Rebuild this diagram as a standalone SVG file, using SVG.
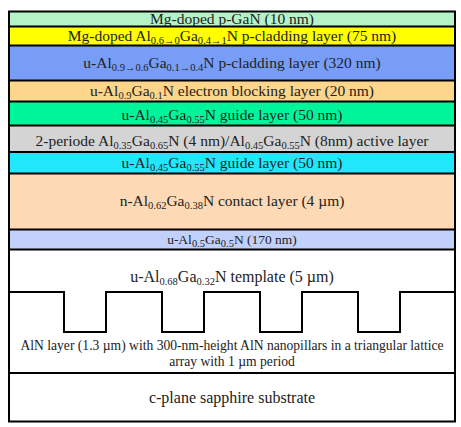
<svg xmlns="http://www.w3.org/2000/svg" width="461" height="427" viewBox="0 0 461 427">
<style>
.t{font-family:"Liberation Serif","Times New Roman",serif;font-size:15.5px;text-anchor:middle;fill:#222}
.m{font-size:13.5px}
.sm{font-size:13.6px}
.b{font-size:16px}
.s{font-size:10.5px}
.l{stroke:#000;stroke-width:2;fill:none}
</style>
<rect width="461" height="427" fill="#fff"/>
<g id="pgan"><rect x="9" y="11.5" width="446" height="15" fill="#b5f2c6"/>
<text class="t" x="232" y="24">Mg-doped p-GaN (10 nm)</text></g>
<g id="pclad75"><rect x="9" y="26.5" width="446" height="19" fill="#ffff00"/>
<text class="t" x="232" y="41">Mg-doped Al<tspan class="s" dy="3">0.6→0</tspan><tspan dy="-3">Ga</tspan><tspan class="s" dy="3">0.4→1</tspan><tspan dy="-3">N p-cladding layer (75 nm)</tspan></text></g>
<g id="pclad320"><rect x="9" y="45.5" width="446" height="35" fill="#779df6"/>
<text class="t" x="232" y="68">u-Al<tspan class="s" dy="3">0.9→0.6</tspan><tspan dy="-3">Ga</tspan><tspan class="s" dy="3">0.1→0.4</tspan><tspan dy="-3">N p-cladding layer (320 nm)</tspan></text></g>
<g id="ebl"><rect x="9" y="80.5" width="446" height="21" fill="#fdd58b"/>
<text class="t" x="232" y="95.5">u-Al<tspan class="s" dy="3">0.9</tspan><tspan dy="-3">Ga</tspan><tspan class="s" dy="3">0.1</tspan><tspan dy="-3">N electron blocking layer (20 nm)</tspan></text></g>
<g id="guide1"><rect x="9" y="101.5" width="446" height="24" fill="#00f59b"/>
<text class="t" x="232" y="120">u-Al<tspan class="s" dy="3">0.45</tspan><tspan dy="-3">Ga</tspan><tspan class="s" dy="3">0.55</tspan><tspan dy="-3">N guide layer (50 nm)</tspan></text></g>
<g id="active"><rect x="9" y="125.5" width="446" height="26.5" fill="#d4d4d4"/>
<text class="t" x="232" y="145.5">2-periode Al<tspan class="s" dy="3">0.35</tspan><tspan dy="-3">Ga</tspan><tspan class="s" dy="3">0.65</tspan><tspan dy="-3">N (4 nm)/Al</tspan><tspan class="s" dy="3">0.45</tspan><tspan dy="-3">Ga</tspan><tspan class="s" dy="3">0.55</tspan><tspan dy="-3">N (8nm) active layer</tspan></text></g>
<g id="guide2"><rect x="9" y="152" width="446" height="21.5" fill="#22e6fb"/>
<text class="t" x="232" y="168">u-Al<tspan class="s" dy="3">0.45</tspan><tspan dy="-3">Ga</tspan><tspan class="s" dy="3">0.55</tspan><tspan dy="-3">N guide layer (50 nm)</tspan></text></g>
<g id="contact"><rect x="9" y="173.5" width="446" height="56" fill="#fddab5"/>
<text class="t" x="232" y="206">n-Al<tspan class="s" dy="3">0.62</tspan><tspan dy="-3">Ga</tspan><tspan class="s" dy="3">0.38</tspan><tspan dy="-3">N contact layer (4 µm)</tspan></text></g>
<g id="buffer"><rect x="9" y="229.5" width="446" height="20" fill="#c2d1fc"/>
<text class="t m" x="232" y="243.5">u-Al<tspan class="s" dy="3">0.5</tspan><tspan dy="-3">Ga</tspan><tspan class="s" dy="3">0.5</tspan><tspan dy="-3">N (170 nm)</tspan></text></g>
<g id="template"><text class="t b" x="232" y="282">u-Al<tspan class="s" dy="3">0.68</tspan><tspan dy="-3">Ga</tspan><tspan class="s" dy="3">0.32</tspan><tspan dy="-3">N template (5 µm)</tspan></text></g>
<g id="aln"><text class="t sm" x="232" y="350">AlN layer (1.3 µm) with 300-nm-height AlN nanopillars in a triangular lattice</text>
<text class="t sm" x="232" y="365.5">array with 1 µm period</text></g>
<g id="substrate"><text class="t b" x="232" y="403">c-plane sapphire substrate</text></g>
<g id="lines">
<line class="l" x1="9" y1="26.5" x2="455" y2="26.5"/>
<line class="l" x1="9" y1="45.5" x2="455" y2="45.5"/>
<line class="l" x1="9" y1="80.5" x2="455" y2="80.5"/>
<line class="l" x1="9" y1="101.5" x2="455" y2="101.5"/>
<line class="l" x1="9" y1="125.5" x2="455" y2="125.5"/>
<line class="l" x1="9" y1="152" x2="455" y2="152"/>
<line class="l" x1="9" y1="173.5" x2="455" y2="173.5"/>
<line class="l" x1="9" y1="229.5" x2="455" y2="229.5"/>
<line class="l" x1="9" y1="249.5" x2="455" y2="249.5"/>
<path class="l" d="M9 292H64V332H106V292H162V332H204V292H260V332H302V292H358V332H400V292H455"/>
<line class="l" x1="9" y1="373" x2="455" y2="373"/>
<rect class="l" x="9" y="11.5" width="446" height="410"/>
</g>
</svg>
